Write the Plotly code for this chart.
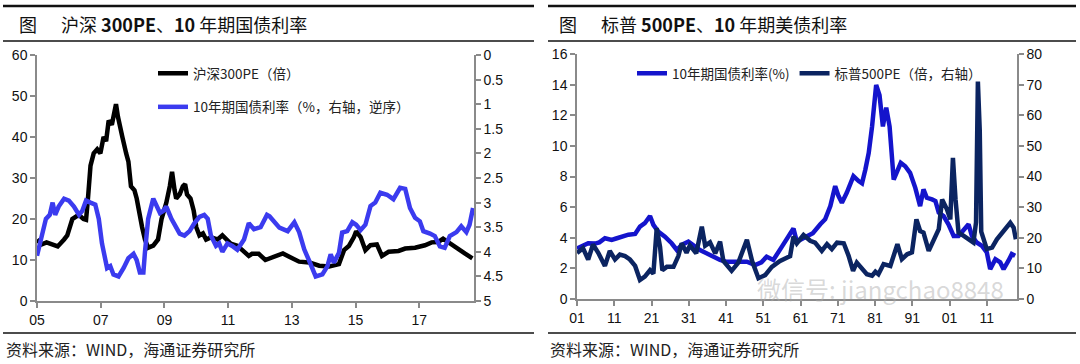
import plotly.graph_objects as go

# ---------------- Left chart data (decimal years) ----------------
csi_dates = [2005.00, 2005.15, 2005.30, 2005.45, 2005.65, 2005.85, 2005.95, 2006.11, 2006.31, 2006.46,
             2006.54, 2006.60, 2006.68, 2006.78, 2006.89, 2006.99, 2007.09, 2007.17, 2007.25, 2007.35,
             2007.48, 2007.54, 2007.61, 2007.68, 2007.80, 2007.87, 2007.95, 2008.06, 2008.13, 2008.23,
             2008.30, 2008.39, 2008.49, 2008.65, 2008.80, 2008.91, 2009.06, 2009.17, 2009.24, 2009.32,
             2009.37, 2009.48, 2009.58, 2009.65, 2009.71, 2009.82, 2009.92, 2010.00, 2010.10, 2010.21,
             2010.31, 2010.46, 2010.67, 2010.82, 2010.93, 2011.08, 2011.29, 2011.50, 2011.65, 2011.75,
             2011.96, 2012.17, 2012.30, 2012.72, 2012.92, 2013.23, 2013.55, 2013.86, 2014.17, 2014.48,
             2014.64, 2014.79, 2014.95, 2015.02, 2015.16, 2015.31, 2015.47, 2015.67, 2015.83, 2016.04,
             2016.35, 2016.56, 2016.87, 2017.18, 2017.39, 2017.60, 2017.75, 2017.96, 2018.22, 2018.43,
             2018.67]
csi300_pe = [15.0, 13.8, 14.3, 13.9, 13.3, 15.0, 16.0, 20.0, 21.0, 20.0,
             19.8, 25.0, 33.0, 36.0, 37.0, 36.0, 40.0, 39.0, 44.0, 43.0,
             48.0, 45.0, 43.0, 40.0, 36.0, 34.0, 28.0, 27.0, 25.0, 20.0,
             18.0, 15.0, 13.0, 13.5, 15.0, 20.0, 24.0, 28.0, 31.5, 27.0,
             25.0, 26.0, 28.0, 28.5, 26.0, 25.0, 22.0, 18.0, 16.0, 16.5,
             15.0, 15.5, 15.0, 16.0, 15.0, 14.0, 13.5, 12.0, 11.0, 11.5,
             11.5, 10.0, 10.4, 11.6, 10.8, 9.6, 9.4, 8.6, 8.4, 9.0,
             12.4, 13.4, 15.6, 17.0, 15.6, 12.4, 13.6, 13.8, 11.0, 12.0,
             12.2, 12.8, 13.0, 13.6, 14.3, 14.4, 15.2, 14.0, 12.8, 11.6,
             10.4]

cn_dates = [2005.00, 2005.12, 2005.28, 2005.40, 2005.49, 2005.57, 2005.68, 2005.85, 2006.00, 2006.16,
            2006.32, 2006.42, 2006.54, 2006.68, 2006.83, 2006.94, 2007.04, 2007.20, 2007.30, 2007.40,
            2007.56, 2007.72, 2007.87, 2008.03, 2008.13, 2008.23, 2008.34, 2008.39, 2008.49, 2008.65,
            2008.75, 2008.86, 2008.96, 2009.06, 2009.22, 2009.37, 2009.48, 2009.63, 2009.79, 2009.94,
            2010.10, 2010.25, 2010.36, 2010.46, 2010.62, 2010.72, 2010.82, 2010.98, 2011.13, 2011.29,
            2011.50, 2011.65, 2011.81, 2012.02, 2012.22, 2012.30, 2012.61, 2012.87, 2013.08, 2013.23,
            2013.39, 2013.55, 2013.75, 2013.96, 2014.12, 2014.22, 2014.32, 2014.48, 2014.58, 2014.74,
            2014.90, 2015.02, 2015.16, 2015.31, 2015.47, 2015.62, 2015.78, 2015.99, 2016.19, 2016.40,
            2016.56, 2016.71, 2016.87, 2017.02, 2017.13, 2017.34, 2017.49, 2017.65, 2017.80, 2017.96,
            2018.17, 2018.32, 2018.48, 2018.58, 2018.69]
cn_10y = [4.08, 3.75, 3.33, 3.25, 3.00, 3.25, 3.08, 2.92, 2.96, 3.08,
          3.25, 3.17, 2.96, 3.00, 3.04, 3.33, 3.83, 4.33, 4.29, 4.46,
          4.50, 4.33, 4.13, 4.04, 4.17, 4.42, 4.42, 4.00, 3.33, 2.92,
          3.08, 3.21, 3.17, 3.08, 3.33, 3.50, 3.63, 3.67, 3.58, 3.42,
          3.29, 3.25, 3.33, 3.67, 3.88, 3.83, 4.00, 3.83, 3.88, 3.96,
          3.75, 3.42, 3.54, 3.50, 3.25, 3.28, 3.51, 3.58, 3.40, 3.60,
          3.95, 4.19, 4.50, 4.46, 4.29, 4.05, 4.22, 4.02, 3.61, 3.58,
          3.40, 3.45, 3.56, 3.45, 3.07, 3.00, 2.80, 2.84, 2.93, 2.70,
          2.72, 3.11, 3.31, 3.38, 3.58, 3.63, 3.68, 3.89, 3.92, 3.68,
          3.60, 3.48, 3.60, 3.45, 3.11]

left_tickvals = [2005, 2007, 2009, 2011, 2013, 2015, 2017]
left_ticktext = ["05", "07", "09", "11", "13", "15", "17"]

# ---------------- Right chart data (decimal years) ----------------
us_dates = [1901.0, 1902.5, 1904.0, 1905.8, 1907.0, 1908.5, 1910.3, 1911.5, 1913.0, 1914.8,
            1916.6, 1917.9, 1919.2, 1920.6, 1921.5, 1922.8, 1924.6, 1926.4, 1927.8, 1929.1,
            1930.9, 1932.5, 1934.0, 1936.7, 1939.4, 1941.0, 1944.0, 1946.6, 1948.8, 1950.5,
            1951.9, 1953.7, 1956.0, 1958.2, 1959.1, 1960.0, 1962.0, 1964.3, 1966.3, 1967.6,
            1969.0, 1970.3, 1971.2, 1972.1, 1973.4, 1975.2, 1976.6, 1977.5, 1978.4, 1979.3,
            1980.2, 1981.3, 1982.2, 1983.1, 1984.0, 1984.9, 1986.0, 1987.0, 1987.9, 1989.1,
            1990.4, 1991.8, 1993.1, 1994.0, 1994.9, 1996.3, 1997.2, 1998.1, 1999.4, 2000.7,
            2002.1, 2003.4, 2004.8, 2006.1, 2007.0, 2008.3, 2009.7, 2011.0, 2011.9, 2013.3,
            2014.6, 2015.5, 2016.8, 2017.7, 2018.6]
us_10y = [3.30, 3.45, 3.64, 3.62, 3.70, 3.97, 3.86, 3.95, 4.07, 4.20,
          4.25, 4.73, 4.95, 5.42, 4.84, 4.40, 4.07, 3.64, 3.20, 3.53,
          3.75, 3.50, 3.20, 2.88, 2.55, 2.44, 2.44, 2.44, 2.22, 2.40,
          2.76, 2.55, 3.42, 4.18, 4.60, 3.75, 3.97, 4.30, 4.88, 5.20,
          6.07, 7.37, 6.72, 6.29, 6.94, 8.02, 7.70, 7.55, 8.46, 9.54,
          11.27, 13.98, 13.30, 11.27, 12.50, 11.27, 7.80, 8.46, 8.89, 8.67,
          8.24, 7.26, 6.07, 7.16, 6.61, 6.50, 6.40, 5.64, 5.42, 4.88,
          4.12, 4.12, 4.55, 4.88, 4.12, 3.69, 3.47, 3.04, 1.95, 2.60,
          2.39, 1.95, 2.50, 2.93, 2.82]

sp_dates = [1901.0, 1902.6, 1904.0, 1905.3, 1906.7, 1908.5, 1909.8, 1911.2, 1912.5, 1913.9,
            1915.2, 1916.6, 1917.9, 1919.2, 1920.6, 1921.5, 1922.4, 1923.3, 1923.9, 1925.1,
            1926.9, 1928.2, 1929.1, 1930.4, 1931.3, 1933.0, 1934.5, 1935.4, 1936.7, 1938.1,
            1939.4, 1940.3, 1942.5, 1944.3, 1946.6, 1948.0, 1949.7, 1951.5, 1953.3, 1955.5,
            1957.3, 1958.2, 1959.1, 1960.0, 1961.8, 1963.6, 1964.9, 1966.7, 1968.1, 1969.4,
            1970.8, 1972.6, 1973.9, 1975.1, 1976.1, 1977.5, 1978.8, 1980.2, 1981.1, 1981.9,
            1983.3, 1985.1, 1987.0, 1988.2, 1989.6, 1990.9, 1992.1, 1993.1, 1994.0, 1995.4,
            1996.7, 1998.1, 1999.0, 2000.3, 2001.2, 2001.9, 2002.6, 2003.4, 2004.8, 2006.1,
            2007.4, 2008.1, 2008.6, 2009.1, 2009.5, 2011.0, 2012.4, 2013.7, 2015.1, 2017.3,
            2018.2, 2018.8]
sp500_pe = [15.0, 16.6, 12.9, 17.8, 15.1, 10.8, 15.7, 12.9, 14.5, 14.0,
            12.9, 10.8, 6.2, 7.3, 9.4, 8.3, 23.1, 17.0, 9.4, 10.5,
            10.5, 14.0, 18.2, 15.1, 17.5, 14.9, 23.6, 17.4, 18.5, 14.9,
            18.7, 12.4, 9.2, 11.9, 19.3, 12.4, 6.8, 7.8, 10.5, 12.4,
            13.5, 14.0, 20.4, 18.2, 20.9, 19.0, 18.4, 15.7, 17.9, 16.3,
            18.4, 18.2, 14.1, 9.2, 11.9, 10.0, 8.1, 7.6, 8.9, 8.1,
            11.4, 10.8, 17.9, 13.0, 14.6, 15.2, 26.0, 22.2, 21.7, 15.7,
            19.5, 22.8, 32.5, 29.3, 26.0, 46.1, 32.5, 21.7, 20.6, 19.5,
            18.4, 25.0, 71.0, 55.0, 22.0, 16.3, 16.8, 19.5, 21.7, 24.9,
            23.3, 19.5]

right_tickvals = [1901, 1911, 1921, 1931, 1941, 1951, 1961, 1971, 1981, 1991, 2001, 2011]
right_ticktext = ["01", "11", "21", "31", "41", "51", "61", "71", "81", "91", "01", "11"]

# ---------------- Figure ----------------
W, H = 1080, 364
def px(x):
    return x / W
def py(y):
    return 1 - y / H

CJK = "Noto Sans CJK SC"
NUM = "Liberation Sans, Arial"
AX = "#8a8a8a"

fig = go.Figure()
fig.add_trace(go.Scatter(x=csi_dates, y=csi300_pe, mode="lines", name="沪深300PE（倍）",
                         line=dict(color="#000000", width=4.5), xaxis="x", yaxis="y",
                         legend="legend", legendgroup="a"))
fig.add_trace(go.Scatter(x=cn_dates, y=cn_10y, mode="lines", name="10年期国债利率（%，右轴，逆序）",
                         line=dict(color="#3b3bef", width=4.5), xaxis="x", yaxis="y2",
                         legend="legend", legendgroup="b"))
fig.add_trace(go.Scatter(x=us_dates, y=us_10y, mode="lines", name="10年期国债利率(%)",
                         line=dict(color="#1414cc", width=4.5), xaxis="x2", yaxis="y3",
                         legend="legend2"))
fig.add_trace(go.Scatter(x=sp_dates, y=sp500_pe, mode="lines", name="标普500PE（倍，右轴）",
                         line=dict(color="#0b2461", width=4.5), xaxis="x2", yaxis="y4",
                         legend="legend2"))

axis_common = dict(showline=True, linecolor=AX, linewidth=1.5, ticks="outside", ticklen=5,
                   tickcolor=AX, tickwidth=1.5, showgrid=False, zeroline=False, automargin=False,
                   tickfont=dict(family=NUM, size=14, color="#111"))

fig.update_layout(
    width=W, height=H,
    margin=dict(l=0, r=0, t=0, b=0, pad=0),
    paper_bgcolor="white", plot_bgcolor="white",
    xaxis=dict(domain=[px(37), px(474)], range=[2005, 2018.72], tickvals=left_tickvals,
               ticktext=left_ticktext, anchor="y", **axis_common),
    yaxis=dict(domain=[py(301), py(55)], range=[0, 60], dtick=10, anchor="x", **axis_common),
    yaxis2=dict(overlaying="y", side="right", range=[5, 0], dtick=0.5, anchor="x", **axis_common),
    xaxis2=dict(domain=[px(577), px(1017)], range=[1901, 2019.1], tickvals=right_tickvals,
                ticktext=right_ticktext, anchor="y3", **axis_common),
    yaxis3=dict(domain=[py(299), py(54)], range=[0, 16], dtick=2, anchor="x2", **axis_common),
    yaxis4=dict(overlaying="y3", side="right", range=[0, 80], dtick=10, anchor="x2", **axis_common),
    legend=dict(x=px(153), y=py(58), xanchor="left", yanchor="top", orientation="v",
                bgcolor="rgba(0,0,0,0)", tracegroupgap=13,
                font=dict(family=CJK, size=13.5, color="#222")),
    legend2=dict(x=px(632), y=py(58), xanchor="left", yanchor="top", orientation="h",
                 bgcolor="rgba(0,0,0,0)", font=dict(family=CJK, size=13.5, color="#222")),
    showlegend=True,
)

shapes = []
for x0, x1 in [(3, 534), (548, 1076)]:
    shapes.append(dict(type="line", xref="paper", yref="paper", x0=px(x0), x1=px(x1),
                       y0=py(6), y1=py(6), line=dict(color="#111", width=2.5)))
    shapes.append(dict(type="line", xref="paper", yref="paper", x0=px(x0), x1=px(x1),
                       y0=py(41), y1=py(41), line=dict(color="#111", width=1.5)))
    shapes.append(dict(type="line", xref="paper", yref="paper", x0=px(x0), x1=px(x1),
                       y0=py(333), y1=py(333), line=dict(color="#111", width=1.5)))
fig.update_layout(shapes=shapes)

ann = []
title_font = dict(family=CJK, size=18, color="#111")
ann.append(dict(text="图", x=px(17), y=py(24), xref="paper", yref="paper", xanchor="left",
                yanchor="middle", showarrow=False, font=title_font))
ann.append(dict(text="沪深 <b>300PE</b>、<b>10</b> 年期国债利率", x=px(59), y=py(24), xref="paper",
                yref="paper", xanchor="left", yanchor="middle", showarrow=False, font=title_font))
ann.append(dict(text="图", x=px(557), y=py(24), xref="paper", yref="paper", xanchor="left",
                yanchor="middle", showarrow=False, font=title_font))
ann.append(dict(text="标普 <b>500PE</b>、<b>10</b> 年期美债利率", x=px(599), y=py(24), xref="paper",
                yref="paper", xanchor="left", yanchor="middle", showarrow=False, font=title_font))
foot_font = dict(family=CJK, size=16, color="#222")
ann.append(dict(text="资料来源：WIND，海通证券研究所", x=px(4), y=py(349), xref="paper", yref="paper",
                xanchor="left", yanchor="middle", showarrow=False, font=foot_font))
ann.append(dict(text="资料来源：WIND，海通证券研究所", x=px(548), y=py(349), xref="paper", yref="paper",
                xanchor="left", yanchor="middle", showarrow=False, font=foot_font))
ann.append(dict(text="微信号: jiangchao8848", x=px(880), y=py(288), xref="paper", yref="paper",
                xanchor="center", yanchor="middle", showarrow=False,
                font=dict(family=CJK, size=24, color="rgba(170,170,170,0.45)")))
fig.update_layout(annotations=ann)

fig.write_html("out.html", config={"displayModeBar": False},
               post_script="document.body.style.margin='0px';")
